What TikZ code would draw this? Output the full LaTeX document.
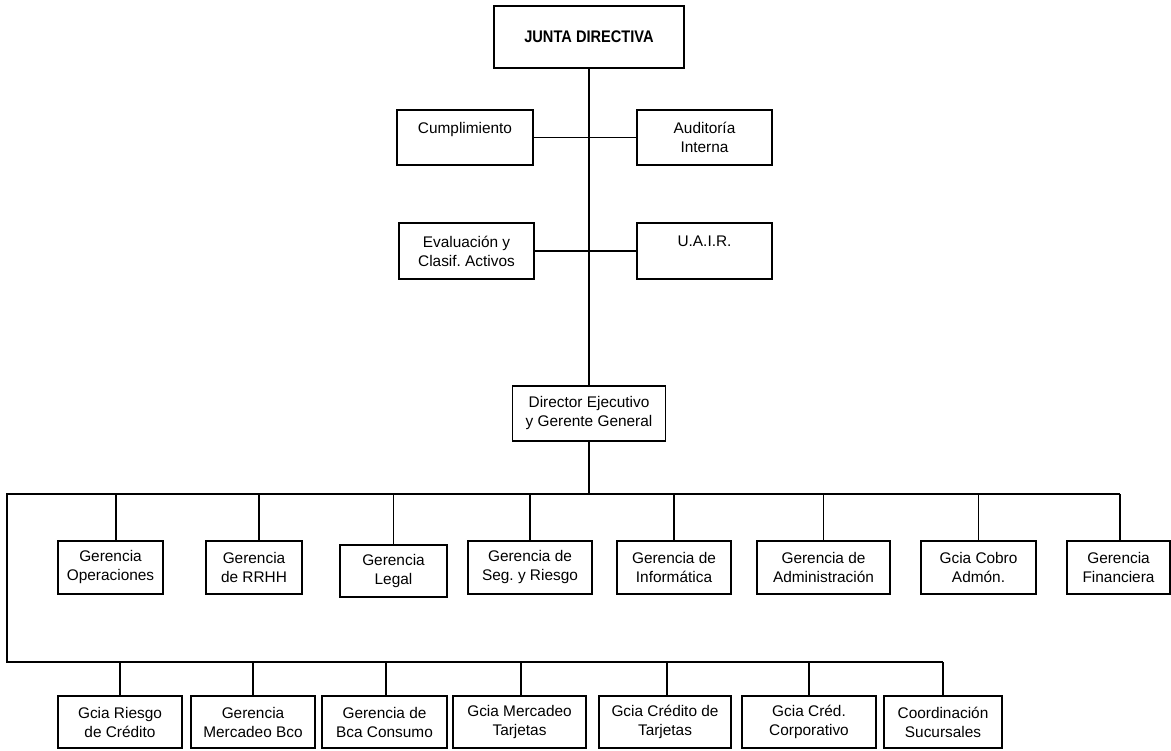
\documentclass[tikz,border=0pt]{standalone}
\usepackage{fontspec}
\setmainfont{Liberation Sans}
\newfontfamily\juntafont[FakeStretch=0.87]{Liberation Sans Bold}
\frenchspacing

\begin{document}
\begin{tikzpicture}[x=0.5pt, y=-0.5pt,
	caja/.style={draw, line width=0.75pt, inner sep=0pt, align=center, font=\fontsize{7.7}{9.5}\selectfont},
	linea/.style={line width=0.75pt}]
%		    \draw[help lines, step=50] (0,0) grid (1171,750);
			\useasboundingbox (0,0) rectangle (1171,750);
			\node[caja, minimum width=95pt, minimum height=31pt, font=\juntafont\fontsize{8.4}{10}\selectfont] (junta) at (589,37) {JUNTA DIRECTIVA};
			\node[caja, minimum width=68pt, minimum height=27.5pt] (cumpl) at (465,137.5) {Cumplimiento\\\mbox{}};
			\node[caja, minimum width=67.5pt, minimum height=27.5pt] (audit) at (704.5,137.5) {Auditoría\\Interna};
			\node[caja, minimum width=67.5pt, minimum height=28pt] (evalua) at (466.5,251) {Evaluación y\\Clasif. Activos};
			\node[caja, minimum width=67.5pt, minimum height=28pt] (uair) at (704.5,251) {U.A.I.R.\\\mbox{}};
			\node[caja, minimum width=76.5pt, minimum height=27.5pt] (director) at (589,413.5) {Director Ejecutivo\\y Gerente General};
			% primera fila de gerencias
			\node[caja, minimum width=52.5pt, minimum height=26.5pt] (oper) at (110.5,567.5) {Gerencia\\Operaciones};
			\node[caja, minimum width=48pt, minimum height=26.5pt] (rrhh) at (254,567.5) {Gerencia\\de RRHH};
			\node[caja, minimum width=53.5pt, minimum height=26pt] (legal) at (393.5,571) {Gerencia\\Legal};
			\node[caja, minimum width=62pt, minimum height=26.5pt] (seg) at (530,567.5) {Gerencia de\\Seg. y Riesgo};
			\node[caja, minimum width=57pt, minimum height=26.5pt] (info) at (674,567.5) {Gerencia de\\Informática};
			\node[caja, minimum width=66.5pt, minimum height=26.5pt] (admin) at (823.5,567.5) {Gerencia de\\Administración};
			\node[caja, minimum width=57.5pt, minimum height=26.5pt] (cobro) at (978.5,567.5) {Gcia Cobro\\Admón.};
			\node[caja, minimum width=51.5pt, minimum height=26.5pt] (finan) at (1118.5,567.5) {Gerencia\\Financiera};
			% segunda fila
			\node[caja, minimum width=62pt, minimum height=26pt] (riesgo) at (120,722) {Gcia Riesgo\\de Crédito};
			\node[caja, minimum width=62pt, minimum height=26pt] (mercbco) at (253,722) {Gerencia\\Mercadeo Bco};
			\node[caja, minimum width=62.5pt, minimum height=26pt] (consumo) at (384.5,722) {Gerencia de\\Bca Consumo};
			\node[caja, minimum width=66.5pt, minimum height=26pt] (merctar) at (519.5,722) {Gcia Mercadeo\\Tarjetas};
			\node[caja, minimum width=66pt, minimum height=26pt] (credtar) at (665,722) {Gcia Crédito de\\Tarjetas};
			\node[caja, minimum width=67pt, minimum height=26pt] (corpor) at (809,722) {Gcia Créd.\\Corporativo};
			\node[caja, minimum width=59pt, minimum height=26pt] (coord) at (943,722) {Coordinación\\Sucursales};
			\coordinate (bus1) at (7,494);
			\coordinate (bus1end) at (1120,494);
			\coordinate (bus2) at (7,662);
			\coordinate (bus2end) at (943,662);
			\draw[linea] (junta) -- (director);
			\draw[linea] (cumpl) -- (audit);
			\draw[linea] (evalua) -- (uair);
			\draw[line width=1pt] (director) -- (director |- bus1);
			\draw[linea] (bus1end) -- (bus1) -- (bus2) -- (bus2end);
			\foreach \n/\dx in {oper/2.75, rrhh/2.5, legal/0, seg/0, info/0, admin/0, cobro/0, finan/0.75}
				\draw[linea] ([xshift=\dx pt]\n.north) -- ([xshift=\dx pt]\n.north |- bus1);
			\foreach \n/\dx in {riesgo/0, mercbco/0, consumo/0.75, merctar/0.75, credtar/1, corpor/0, coord/0}
				\draw[linea] ([xshift=\dx pt]\n.north) -- ([xshift=\dx pt]\n.north |- bus2);
		\end{tikzpicture}
\end{document}
